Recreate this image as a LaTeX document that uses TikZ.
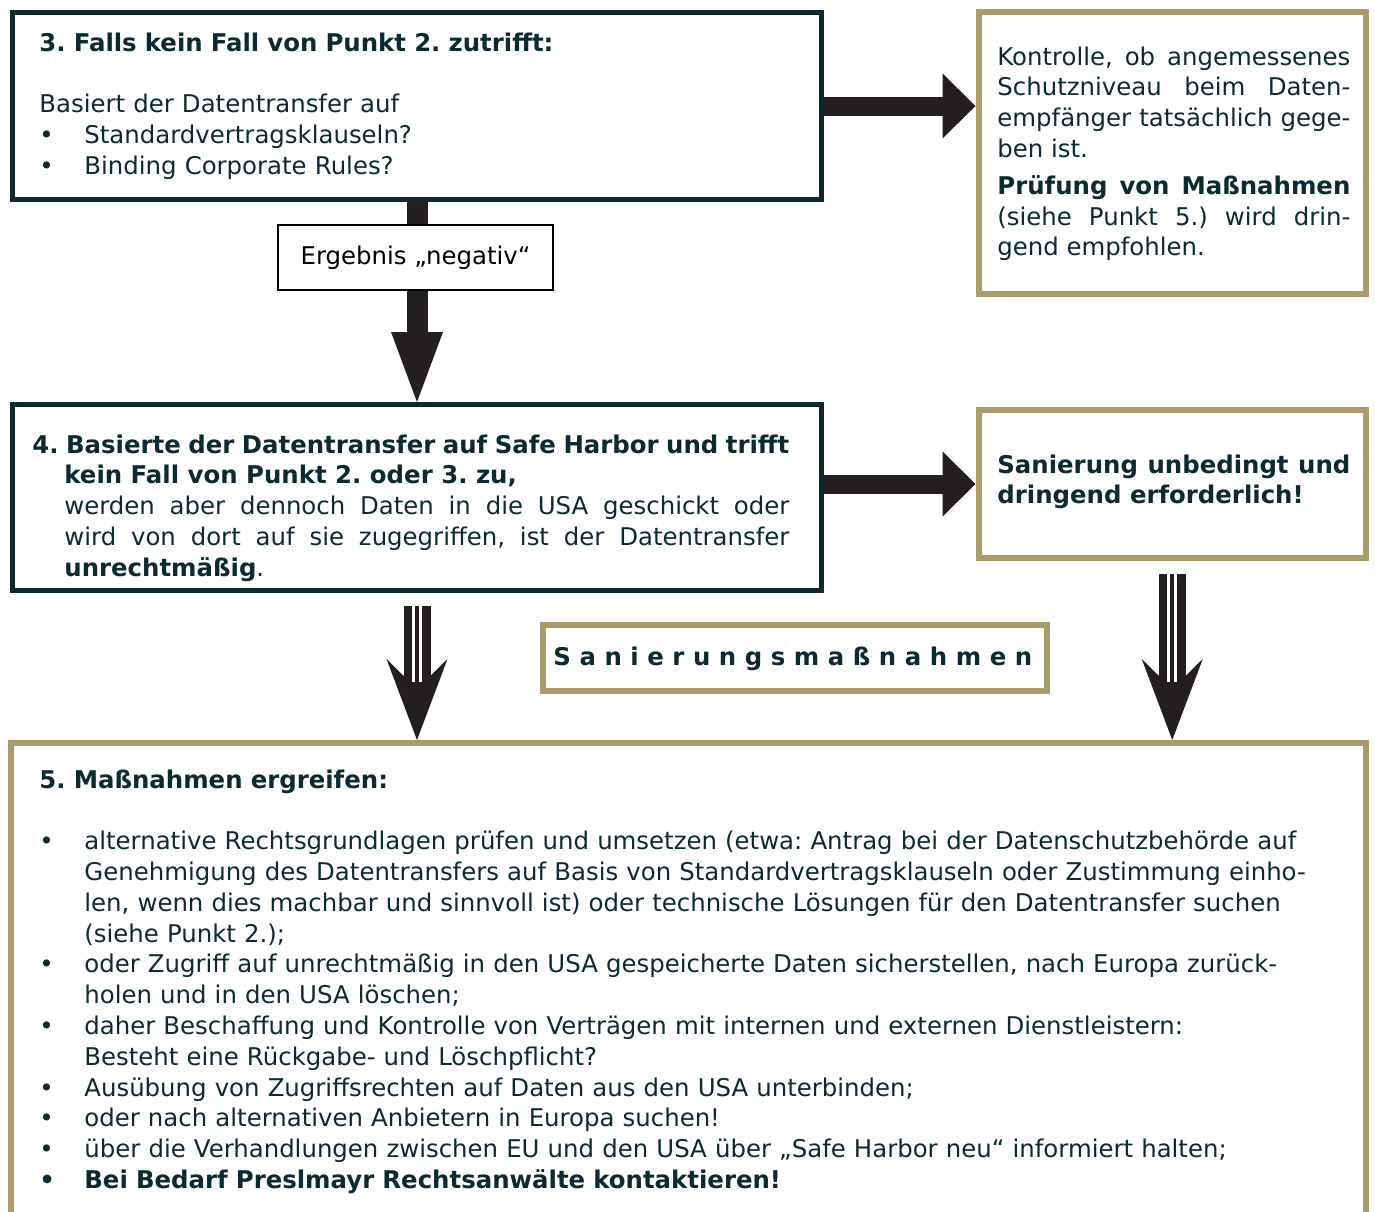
\documentclass[tikz,border=0pt]{standalone}
\usepackage{fontspec}
\setmainfont{DejaVu Sans}
\usetikzlibrary{arrows.meta,calc}
\definecolor{ink}{HTML}{0B2A32}
\definecolor{petrol}{HTML}{0C2A30}
\definecolor{gold}{HTML}{AB9B6C}
\definecolor{arrowink}{HTML}{231F20}
\frenchspacing
\newcommand{\bul}{\makebox[22.5pt][l]{•}}
\newcommand{\bbul}{\makebox[22.5pt][l]{\textbf{•}}}
\newcommand{\ind}{\hspace*{22.5pt}}
\tikzset{x=.5pt,y=-.5pt,darkbox/.style={draw=petrol,line width=2.5pt,fill=white,inner sep=0pt},goldbox/.style={draw=gold,line width=3pt,fill=white,inner sep=0pt},txt/.style={inner sep=0pt,text=ink,anchor=base west,font=\fontsize{12.2pt}{15.4pt}\selectfont,execute at begin node={\tolerance=9999\hyphenpenalty=10000}},stem/.style={arrowink,line width=10.5pt},downarr/.style={arrowink,line width=10.5pt,-{Triangle[length=35pt,width=26pt,line width=0pt]}},rightarr/.style={arrowink,line width=9.5pt,-{Triangle[length=16.5pt,width=32.5pt,line width=0pt]}},triple/.style={arrowink,line width=13.5pt,-{Stealth[length=40.5pt,width=30.5pt,inset=15pt,line width=0pt]}},stripe/.style={white,line width=1.4pt}}

\begin{document}
\begin{tikzpicture}
\useasboundingbox (0,0) rectangle (1375,1211);
\node[darkbox,minimum width=404.5pt,minimum height=93.5pt] (b3) at (417,106) {};
\node[goldbox,minimum width=193.75pt,minimum height=140.75pt] (ktrl) at (1172.25,152.75) {};
\node[draw=black,line width=.7pt,fill=white,minimum width=137.5pt,minimum height=32.5pt,inner sep=0pt,font=\fontsize{12.2pt}{15.4pt}\selectfont] (neg) at (415.5,257.5) {Ergebnis „negativ“};
\node[darkbox,minimum width=404.5pt,minimum height=93pt] (b4) at (417,497.5) {};
\node[goldbox,minimum width=193.75pt,minimum height=74pt] (san) at (1172.25,484) {};
\node[goldbox,minimum width=252pt,minimum height=33pt] (mass) at (795,658) {};
\node[goldbox,minimum width=677.5pt,minimum height=258.5pt] (b5) at (688.5,1001.5) {};

\draw[rightarr] (b3.east) -- (b3.east -| ktrl.west);
\draw[stem] (b3.south) -- (b3.south |- neg.north);
\draw[downarr] (b3.south |- neg.south) -- (b4.north);
\draw[rightarr] (b4.east |- san.west) -- (san.west);

\coordinate (s1) at ($(b4.south)+(0,13)$);
\coordinate (e1) at (b4.south |- b5.north);
\coordinate (s2) at ($(san.south)+(0,13)$);
\coordinate (e2) at (san.south |- b5.north);
\draw[triple] (s1) -- (e1);
\draw[triple] (s2) -- (e2);
\foreach \dx in {-3.5,3.5}{
  \draw[stripe] ($(s1)+(\dx,0)$) -- ($(e1)+(\dx,-58)$);
  \draw[stripe] ($(s2)+(\dx,0)$) -- ($(e2)+(\dx,-58)$);
}

\node[txt,text width=390pt] (t3) at (39,51) {\textbf{3. Falls kein Fall von Punkt 2. zutrifft:}\\[15.4pt]
Basiert der Datentransfer auf\\
\bul Standardvertragsklauseln?\\
\bul Binding Corporate Rules?};
\node[txt,text width=176.5pt,align=justify] (tk) at (997,65) {Kontrolle, ob angemessenes\linebreak Schutzniveau beim Daten-\linebreak empfänger tatsächlich gege-\linebreak ben ist.\par\vspace{3pt}
\textbf{Prüfung von Maßnahmen}\linebreak (siehe Punkt 5.) wird drin-\linebreak gend empfohlen.};
\node[txt,text width=378.5pt,align=justify] (t4) at (32,453) {\hangindent=16pt\hangafter=1
\textbf{4. Basierte der Datentransfer auf Safe Harbor und trifft\linebreak kein Fall von Punkt 2. oder 3. zu,}\newline
werden aber dennoch Daten in die USA geschickt oder\linebreak
wird von dort auf sie zugegriffen, ist der Datentransfer\linebreak
\textbf{unrechtmäßig}.\par};
\node[txt,text width=176.5pt,align=justify] (ts) at (997,473) {\bfseries Sanierung unbedingt und\linebreak dringend erforderlich!};
\node[txt] (tm) at (553,665) {\bfseries\addfontfeature{LetterSpace=35}Sanierungsmaßnahmen};
\node[txt,text width=650pt] (t5) at (39,788) {\textbf{5. Maßnahmen ergreifen:}\\[15.4pt]
\bul alternative Rechtsgrundlagen prüfen und umsetzen (etwa: Antrag bei der Datenschutzbehörde auf\\
\ind Genehmigung des Datentransfers auf Basis von Standardvertragsklauseln oder Zustimmung einho-\\
\ind len, wenn dies machbar und sinnvoll ist) oder technische Lösungen für den Datentransfer suchen\\
\ind (siehe Punkt 2.);\\
\bul oder Zugriff auf unrechtmäßig in den USA gespeicherte Daten sicherstellen, nach Europa zurück-\\
\ind holen und in den USA löschen;\\
\bul daher Beschaffung und Kontrolle von Verträgen mit internen und externen Dienstleistern:\\
\ind Besteht eine Rückgabe- und Löschpflicht?\\
\bul Ausübung von Zugriffsrechten auf Daten aus den USA unterbinden;\\
\bul oder nach alternativen Anbietern in Europa suchen!\\
\bul über die Verhandlungen zwischen EU und den USA über „Safe Harbor neu“ informiert halten;\\
\bbul\textbf{Bei Bedarf Preslmayr Rechtsanwälte kontaktieren!}};
\end{tikzpicture}
\end{document}
